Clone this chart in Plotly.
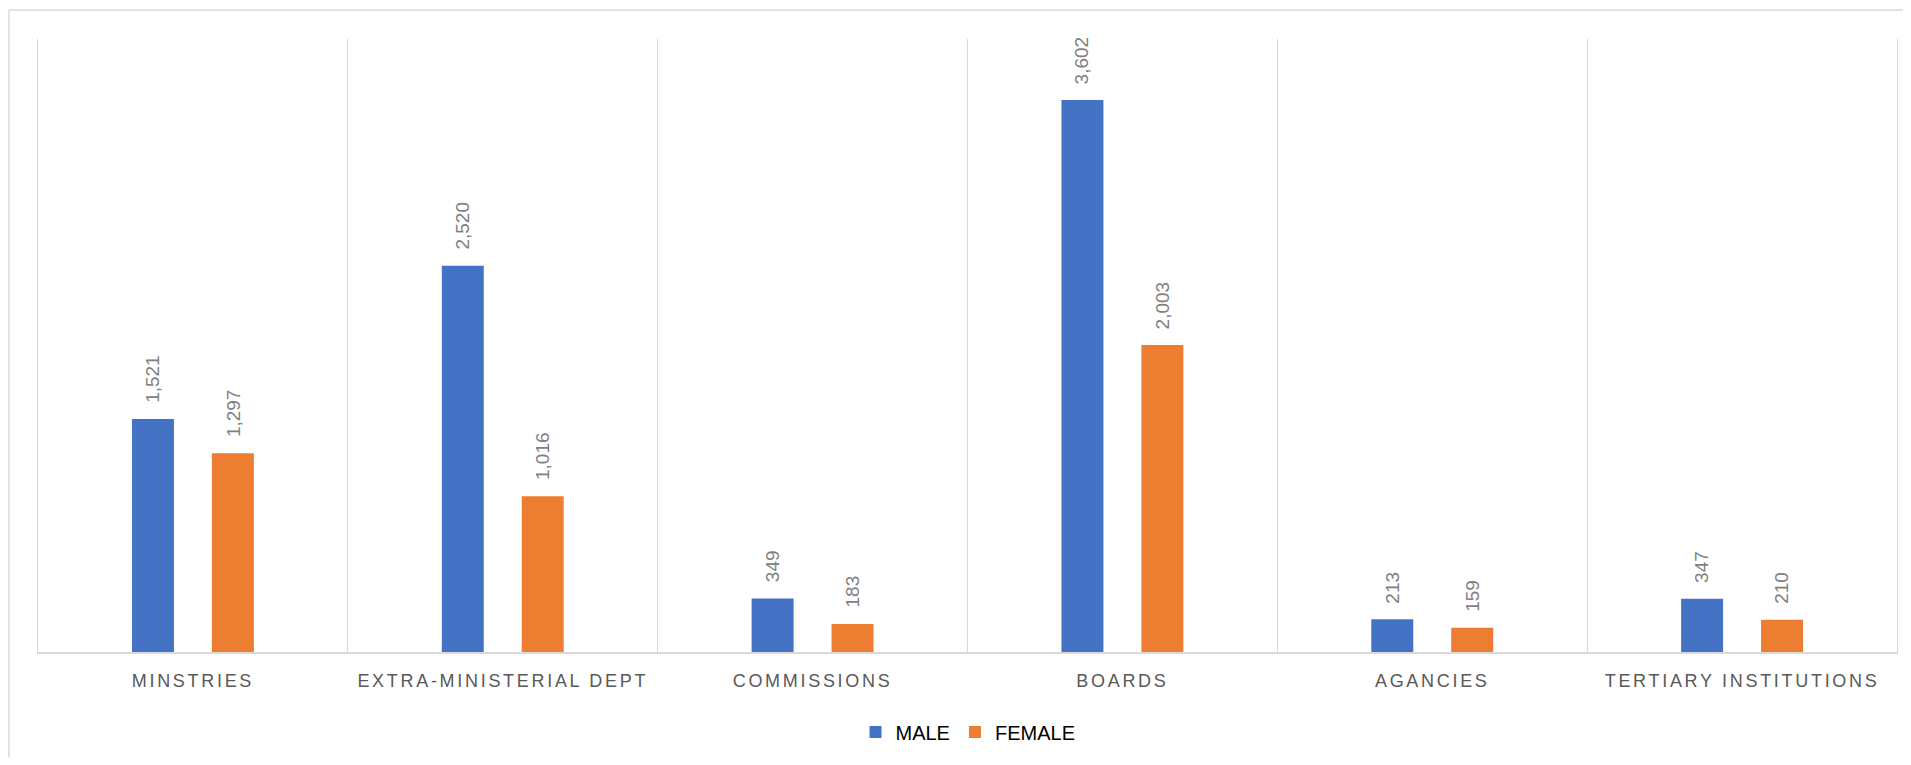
import plotly.graph_objects as go

categories = ["MINSTRIES", "EXTRA-MINISTERIAL DEPT", "COMMISSIONS", "BOARDS",
              "AGANCIES", "TERTIARY INSTITUTIONS"]
male = [1521, 2520, 349, 3602, 213, 347]
female = [1297, 1016, 183, 2003, 159, 210]
series_names = ["MALE", "FEMALE"]

# page body has an 8px default margin; size the figure to fit the window
W, H = 1895, 749
ML, MR, MT, MB = 30, 6, 31, 105
PW, PH = W - ML - MR, H - MT - MB

BLUE, ORANGE = "#4472C4", "#ED7D31"
GRID = "#D9D9D9"

fig = go.Figure()
fig.add_trace(go.Bar(x=categories, y=male, name=series_names[0],
                     marker=dict(color=BLUE, line=dict(width=0))))
fig.add_trace(go.Bar(x=categories, y=female, name=series_names[1],
                     marker=dict(color=ORANGE, line=dict(width=0))))

# data labels, rotated, placed above each bar
BARGAP = 0.484
slot = PW / len(categories) * (1 - BARGAP) / 2
for vals, sign in ((male, -1), (female, 1)):
    for c, v in zip(categories, vals):
        fig.add_annotation(x=c, y=v, xref="x", yref="y", text=f"{v:,}",
                           showarrow=False, textangle=-90,
                           xanchor="center", yanchor="bottom",
                           xshift=sign * slot / 2, yshift=14,
                           font=dict(family="Liberation Sans", size=19, color="#7F7F7F"))

# outer frame (top and left lines)
fx = (1 - ML) / PW
fy = 1 + (MT - 2) / PH
fybot = -(MB) / PH
fxr = 1 + MR / PW
fig.add_shape(type="line", xref="paper", yref="paper", x0=fx, x1=fxr, y0=fy, y1=fy,
              line=dict(color=GRID, width=1.5))
fig.add_shape(type="line", xref="paper", yref="paper", x0=fx, x1=fx, y0=fy, y1=fybot,
              line=dict(color=GRID, width=1.5))

fig.update_layout(
    width=W, height=H,
    margin=dict(l=ML, r=MR, t=MT, b=MB),
    paper_bgcolor="white", plot_bgcolor="white",
    barmode="group", bargap=BARGAP, bargroupgap=0.475,
    showlegend=True,
    legend=dict(orientation="h", x=(960 - ML) / PW, xanchor="center",
                y=-(724 - (MT + PH)) / PH, yanchor="middle",
                font=dict(family="Liberation Sans", size=20, color="#000000"),
                itemwidth=30),
    xaxis=dict(type="category", tickson="boundaries", showgrid=True, gridcolor=GRID,
               gridwidth=1, ticks="", showline=True, linecolor=GRID, linewidth=2,
               mirror=False, range=[-0.5, len(categories) - 0.5],
               tickfont=dict(family="Liberation Sans", size=18, color="#595959"),
               ticklabelstandoff=11),
    yaxis=dict(range=[0, 4000], showgrid=False, zeroline=False, showticklabels=False,
               showline=True, linecolor=GRID, linewidth=1, mirror=True, ticks=""),
    font=dict(family="Liberation Sans"),
)

spacing_js = (
    "document.querySelectorAll('.xtick text').forEach(function(t){"
    "t.style.letterSpacing='2.7px';});"
)
fig.write_html("out.html", post_script=spacing_js)
